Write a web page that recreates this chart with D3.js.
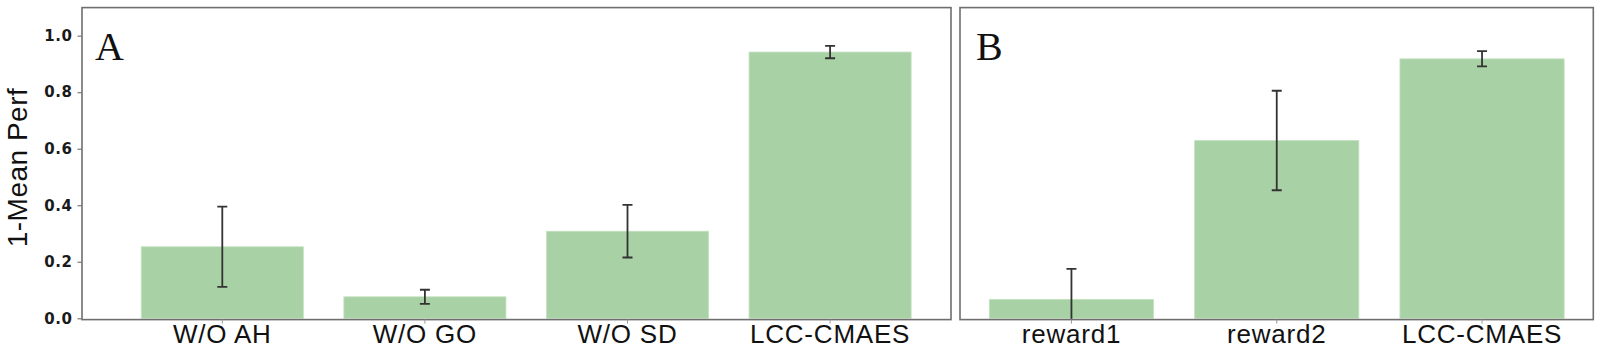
<!DOCTYPE html>
<html>
<head>
<meta charset="utf-8">
<script src="https://cdn.jsdelivr.net/npm/d3@7"></script>
<style>
  html, body { margin: 0; padding: 0; background: #fff; }
  svg { display: block; }
</style>
</head>
<body>
<div id="chart"></div>
<script>
// ---- data ----
const catsA = ["W/O AH", "W/O GO", "W/O SD", "LCC-CMAES"];
const valsA = [0.253, 0.076, 0.308, 0.942];
const errsA = [0.142, 0.025, 0.093, 0.022];

const catsB = ["reward1", "reward2", "LCC-CMAES"];
const valsB = [0.067, 0.629, 0.918];
const errsB = [0.108, 0.176, 0.027];

const yTicks = [0.0, 0.2, 0.4, 0.6, 0.8, 1.0];
const panelLabels = ["A", "B"];
const yLabel = "1-Mean Perf";

// ---- layout ----
const W = 1600, H = 353;
const svg = d3.select("#chart").append("svg").attr("width", W).attr("height", H);

const frameTop = 7.6, frameBottom = 319.6;
const y = d3.scaleLinear().domain([-0.005, 1.1]).range([319.7, 7.4]);

const panels = [
  { cats: catsA, vals: valsA, errs: errsA, frame: [82, 951], band: [121, 931.4], label: panelLabels[0], labelDx: 13, yaxis: true },
  { cats: catsB, vals: valsB, errs: errsB, frame: [960, 1593.3], band: [968.8, 1584.7], label: panelLabels[1], labelDx: 16, yaxis: false }
];

const barColor = "#a8d1a5";
const errColor = "#333";
const frameColor = "#6e6e6e";

panels.forEach((p, pi) => {
  const x = d3.scaleBand().domain(p.cats).range(p.band).paddingInner(0.2).paddingOuter(0.1);
  const g = svg.append("g");
  const clipId = "clip" + pi;
  svg.append("clipPath").attr("id", clipId)
    .append("rect").attr("x", p.frame[0]).attr("y", frameTop)
    .attr("width", p.frame[1] - p.frame[0]).attr("height", frameBottom - frameTop);

  const plot = g.append("g").attr("clip-path", `url(#${clipId})`);

  // bars
  plot.selectAll("rect.bar").data(p.cats).join("rect")
    .attr("class", "bar")
    .attr("x", d => x(d))
    .attr("width", x.bandwidth())
    .attr("y", (d, i) => y(p.vals[i]))
    .attr("height", (d, i) => y(0) - y(p.vals[i]))
    .attr("fill", barColor)
    .attr("stroke", "#c4e2c1")
    .attr("stroke-width", 0.8);

  // error bars
  const cap = 5;
  const eb = plot.selectAll("g.err").data(p.cats).join("g").attr("class", "err");
  eb.append("line")
    .attr("x1", d => x(d) + x.bandwidth() / 2).attr("x2", d => x(d) + x.bandwidth() / 2)
    .attr("y1", (d, i) => y(p.vals[i] + p.errs[i]))
    .attr("y2", (d, i) => y(p.vals[i] - p.errs[i]))
    .attr("stroke", errColor).attr("stroke-width", 1.8);
  eb.append("line")
    .attr("x1", d => x(d) + x.bandwidth() / 2 - cap).attr("x2", d => x(d) + x.bandwidth() / 2 + cap)
    .attr("y1", (d, i) => y(p.vals[i] + p.errs[i]))
    .attr("y2", (d, i) => y(p.vals[i] + p.errs[i]))
    .attr("stroke", errColor).attr("stroke-width", 1.8);
  eb.append("line")
    .attr("x1", d => x(d) + x.bandwidth() / 2 - cap).attr("x2", d => x(d) + x.bandwidth() / 2 + cap)
    .attr("y1", (d, i) => y(p.vals[i] - p.errs[i]))
    .attr("y2", (d, i) => y(p.vals[i] - p.errs[i]))
    .attr("stroke", errColor).attr("stroke-width", 1.8);

  // frame
  g.append("rect")
    .attr("x", p.frame[0]).attr("y", frameTop)
    .attr("width", p.frame[1] - p.frame[0]).attr("height", frameBottom - frameTop)
    .attr("fill", "none").attr("stroke", frameColor).attr("stroke-width", 1.6);

  // x axis
  const xa = g.append("g").attr("transform", `translate(0,${frameBottom})`)
    .call(d3.axisBottom(x).tickSize(4).tickPadding(2));
  xa.select(".domain").remove();
  xa.selectAll(".tick line").attr("stroke", "#999").attr("stroke-width", 1);
  xa.selectAll(".tick text")
    .attr("y", 23.5).attr("dy", null)
    .attr("font-family", "'Liberation Sans', Arial, sans-serif")
    .attr("font-size", 26).attr("letter-spacing", 0.8).attr("fill", "#111");

  // y axis
  if (p.yaxis) {
    const ya = g.append("g").attr("transform", `translate(${p.frame[0]},0)`)
      .call(d3.axisLeft(y).tickValues(yTicks).tickFormat(d3.format(".1f")).tickSize(4.5).tickPadding(5));
    ya.select(".domain").remove();
    ya.selectAll(".tick line").attr("stroke", "#777").attr("stroke-width", 1.2);
    ya.selectAll(".tick text")
      .attr("font-family", "'DejaVu Sans', sans-serif")
      .attr("font-weight", "bold")
      .attr("font-size", 15).attr("letter-spacing", 0.6).attr("fill", "#1a1a1a");
  }

  // panel label
  g.append("text")
    .attr("x", p.frame[0] + p.labelDx).attr("y", 60)
    .attr("font-family", "'Liberation Serif', 'DejaVu Serif', serif")
    .attr("font-size", 40).attr("fill", "#111")
    .text(p.label);
});

// y label
svg.append("text")
  .attr("transform", "translate(27,167.5) rotate(-90)")
  .attr("text-anchor", "middle")
  .attr("font-family", "'Liberation Sans', Arial, sans-serif")
  .attr("font-size", 28).attr("letter-spacing", 0.5).attr("fill", "#111")
  .text(yLabel);
</script>
</body>
</html>
